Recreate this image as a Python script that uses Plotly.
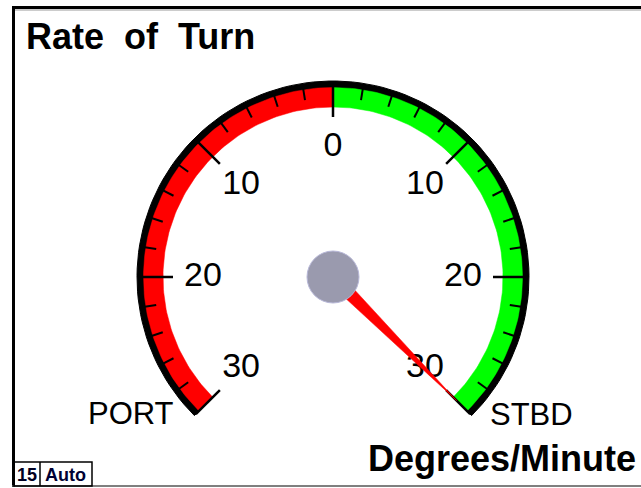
import numpy as np
import plotly.graph_objects as go

# ---- data -------------------------------------------------------------
title_text = "Rate\u00a0\u00a0of\u00a0\u00a0Turn"
units_text = "Degrees/Minute"
port_label, stbd_label = "PORT", "STBD"
scale_min, scale_max = -30, 30          # negative = port, positive = starboard
major_values = [-30, -20, -10, 0, 10, 20, 30]
major_labels = ["30", "20", "10", "0", "10", "20", "30"]
minor_step = 2
rate_of_turn = 30                       # current reading (starboard)
zone_ranges = [(-30, 0), (0, 30)]
zone_colors = ["#ff0000", "#00ff00"]
status_boxes = ["15", "Auto"]

# ---- geometry ---------------------------------------------------------
W, H = 641, 488
CX, CY = 333, 277
SWEEP = 135.0                           # degrees either side of top
R_OUT, R_RIM, R_BAND_IN = 196, 189, 170
R_MAJOR_IN, R_MINOR_IN = 160, 179
R_LABEL, R_NEEDLE, NEEDLE_HALF = 130, 175, 7.2
FONT = "Liberation Sans, Arial, sans-serif"


def ang(v):
    return np.radians(v / scale_max * SWEEP)


def pt(v, r):
    a = ang(v)
    return CX + r * np.sin(a), CY - r * np.cos(a)


def band(v0, v1, r_in, r_out, n=120):
    vs = np.linspace(v0, v1, n)
    xo, yo = pt(vs, r_out)
    xi, yi = pt(vs[::-1], r_in)
    return np.r_[xo, xi, xo[:1]], np.r_[yo, yi, yo[:1]]


fig = go.Figure()

# outer black rim
bx, by = band(scale_min, scale_max, R_RIM, R_OUT)
fig.add_trace(go.Scatter(x=bx, y=by, mode="lines", fill="toself",
                         fillcolor="black", line=dict(color="black", width=1),
                         hoverinfo="skip"))

# coloured zones
for (v0, v1), col in zip(zone_ranges, zone_colors):
    zx, zy = band(v0, v1, R_BAND_IN, R_RIM + 0.5)
    fig.add_trace(go.Scatter(x=zx, y=zy, mode="lines", fill="toself",
                             fillcolor=col, line=dict(color=col, width=0.5),
                             hoverinfo="skip"))

# minor ticks
mx, my = [], []
for v in np.arange(scale_min, scale_max + minor_step, minor_step):
    if v in major_values:
        continue
    x0, y0 = pt(v, R_OUT - 2)
    x1, y1 = pt(v, R_MINOR_IN)
    mx += [x0, x1, None]
    my += [y0, y1, None]
fig.add_trace(go.Scatter(x=mx, y=my, mode="lines",
                         line=dict(color="black", width=2), hoverinfo="skip"))

# major ticks
jx, jy = [], []
for v in major_values:
    x0, y0 = pt(v, R_OUT - 2)
    x1, y1 = pt(v, R_MAJOR_IN)
    jx += [x0, x1, None]
    jy += [y0, y1, None]
fig.add_trace(go.Scatter(x=jx, y=jy, mode="lines",
                         line=dict(color="black", width=2.5), hoverinfo="skip"))

# tick labels
lx, ly = pt(np.array(major_values, dtype=float), R_LABEL)
fig.add_trace(go.Scatter(x=lx, y=ly, mode="text", text=major_labels,
                         textposition="middle center",
                         textfont=dict(family=FONT, size=34, color="black"),
                         hoverinfo="skip"))

# needle
a = ang(rate_of_turn)
tipx, tipy = pt(rate_of_turn, R_NEEDLE)
px, py = np.cos(a), np.sin(a)
nx = [CX + NEEDLE_HALF * px, tipx, CX - NEEDLE_HALF * px, CX + NEEDLE_HALF * px]
ny = [CY + NEEDLE_HALF * py, tipy, CY - NEEDLE_HALF * py, CY + NEEDLE_HALF * py]
fig.add_trace(go.Scatter(x=nx, y=ny, mode="lines", fill="toself",
                         fillcolor="#ff0000", line=dict(color="#ff0000", width=0.5),
                         hoverinfo="skip"))

shapes = [
    # hub
    dict(type="circle", x0=CX - 26, x1=CX + 26, y0=CY - 26, y1=CY + 26,
         fillcolor="#9a9aae", line=dict(color="#b8b8d8", width=1), layer="above"),
    # frame
    dict(type="line", x0=12, x1=W, y0=7.5, y1=7.5, line=dict(color="black", width=3)),
    dict(type="line", x0=12, x1=W, y0=10, y1=10, line=dict(color="#999999", width=1)),
    dict(type="line", x0=13.5, x1=13.5, y0=6, y1=487, line=dict(color="black", width=3)),
    dict(type="line", x0=12, x1=W, y0=486, y1=486, line=dict(color="#555555", width=1.5)),
    # status boxes
    dict(type="rect", x0=14, x1=92, y0=462, y1=486, line=dict(color="black", width=1.5)),
    dict(type="line", x0=40, x1=40, y0=462, y1=486, line=dict(color="black", width=1.5)),
]

annotations = [
    dict(x=24, y=36, text="<b>" + title_text + "</b>", showarrow=False,
         xanchor="left", yanchor="middle",
         font=dict(family=FONT, size=36, color="black"), xref="x", yref="y"),
    dict(x=638, y=458, text="<b>" + units_text + "</b>", showarrow=False,
         xanchor="right", yanchor="middle",
         font=dict(family=FONT, size=36, color="black"), xref="x", yref="y"),
    dict(x=131, y=413, text=port_label, showarrow=False, xanchor="center", yanchor="middle",
         font=dict(family=FONT, size=31, color="black"), xref="x", yref="y"),
    dict(x=531, y=414, text=stbd_label, showarrow=False, xanchor="center", yanchor="middle",
         font=dict(family=FONT, size=31, color="black"), xref="x", yref="y"),
    dict(x=27, y=475, text="<b>" + status_boxes[0] + "</b>", showarrow=False,
         xanchor="center", yanchor="middle",
         font=dict(family=FONT, size=18, color="#000022"), xref="x", yref="y"),
    dict(x=65, y=475, text="<b>" + status_boxes[1] + "</b>", showarrow=False,
         xanchor="center", yanchor="middle",
         font=dict(family=FONT, size=18, color="#000033"), xref="x", yref="y"),
]

fig.update_layout(
    width=W, height=H, margin=dict(l=0, r=0, t=0, b=0),
    paper_bgcolor="white", plot_bgcolor="white", showlegend=False,
    xaxis=dict(range=[0, W], visible=False, fixedrange=True),
    yaxis=dict(range=[H, 0], visible=False, fixedrange=True),
    shapes=shapes, annotations=annotations,
)

fig.write_html("out.html", config=dict(displayModeBar=False))
